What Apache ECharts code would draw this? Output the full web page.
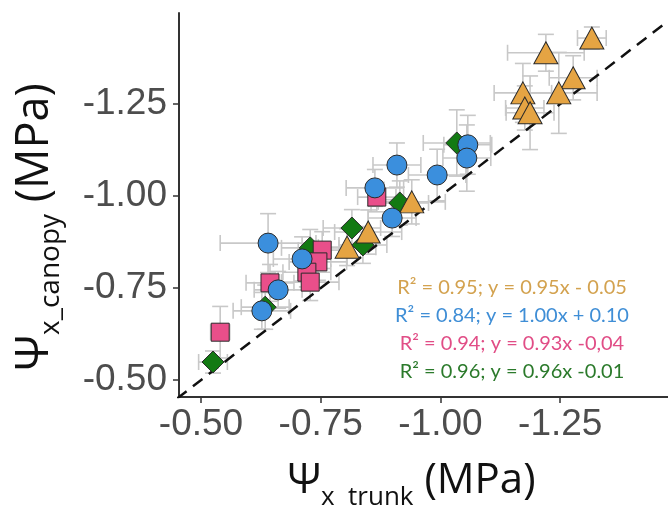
<!DOCTYPE html>
<html>
<head>
<meta charset="utf-8">
<script src="https://cdn.jsdelivr.net/npm/echarts@6/dist/echarts.min.js"></script>
<style>
  html, body { margin: 0; padding: 0; background: #fff; }
  #chart { width: 668px; height: 506px; }
</style>
</head>
<body>
<div id="chart"></div>
<script>
// tick values shared by both axes
const ticks = [-0.5, -0.75, -1.0, -1.25];

// each row: [psi trunk, psi canopy, trunk err, canopy err]
const orange = [
  [-1.316, -1.429, 0.03, 0.03],
  [-1.220, -1.389, 0.08, 0.05],
  [-1.277, -1.321, 0.05, 0.06],
  [-1.172, -1.280, 0.06, 0.08],
  [-1.247, -1.280, 0.08, 0.11],
  [-1.176, -1.239, 0.04, 0.06],
  [-1.187, -1.226, 0.05, 0.10],
  [-0.940, -0.984, 0.07, 0.06],
  [-0.849, -0.902, 0.07, 0.06],
  [-0.805, -0.861, 0.06, 0.05]
];
const blue = [
  [-1.057, -1.139, 0.05, 0.08],
  [-1.055, -1.103, 0.05, 0.09],
  [-0.909, -1.084, 0.05, 0.06],
  [-0.993, -1.057, 0.06, 0.07],
  [-0.863, -1.022, 0.06, 0.05],
  [-0.899, -0.940, 0.05, 0.05],
  [-0.711, -0.829, 0.06, 0.06],
  [-0.640, -0.872, 0.10, 0.08],
  [-0.661, -0.745, 0.05, 0.05],
  [-0.627, -0.688, 0.06, 0.05]
];
const pink = [
  [-0.867, -0.997, 0.04, 0.04],
  [-0.753, -0.853, 0.05, 0.05],
  [-0.744, -0.821, 0.06, 0.05],
  [-0.721, -0.793, 0.05, 0.04],
  [-0.728, -0.766, 0.06, 0.05],
  [-0.644, -0.764, 0.05, 0.05],
  [-0.540, -0.630, 0.02, 0.07]
];
const green = [
  [-1.034, -1.144, 0.07, 0.09],
  [-0.915, -0.981, 0.06, 0.06],
  [-0.815, -0.913, 0.06, 0.05],
  [-0.838, -0.867, 0.05, 0.05],
  [-0.728, -0.859, 0.06, 0.05],
  [-0.634, -0.698, 0.05, 0.06],
  [-0.525, -0.549, 0.03, 0.03]
];
const oneToOne = [[-0.45, -0.45], [-1.5, -1.5]];

const fitLabels = [
  'R\u00b2 = 0.95; y = 0.95x - 0.05',
  'R\u00b2 = 0.84; y = 1.00x + 0.10',
  'R\u00b2 = 0.94; y = 0.93x -0,04',
  'R\u00b2 = 0.96; y = 0.96x -0.01'
];
const fitColors = ['#D3A24F', '#3F8ED6', '#E14D86', '#2B7A2B'];

const chart = echarts.init(document.getElementById('chart'));

function errorBars(data) {
  return {
    type: 'custom',
    silent: true,
    z: 1,
    encode: {x: 0, y: 1},
    data: data,
    renderItem: function (params, api) {
      const x = api.value(0), y = api.value(1);
      const ex = api.value(2), ey = api.value(3);
      const a = api.coord([x + ex, y]), b = api.coord([x - ex, y]);
      const c = api.coord([x, y + ey]), d = api.coord([x, y - ey]);
      const cap = 8;
      const style = {stroke: '#c8c8c8', lineWidth: 1.6};
      const seg = (x1, y1, x2, y2) => ({type: 'line', shape: {x1, y1, x2, y2}, style});
      return {
        type: 'group',
        children: [
          seg(a[0], a[1], b[0], b[1]),
          seg(a[0], a[1] - cap, a[0], a[1] + cap),
          seg(b[0], b[1] - cap, b[0], b[1] + cap),
          seg(c[0], c[1], d[0], d[1]),
          seg(c[0] - cap, c[1], c[0] + cap, c[1]),
          seg(d[0] - cap, d[1], d[0] + cap, d[1])
        ]
      };
    }
  };
}

function points(data, symbol, size, color) {
  return {
    type: 'scatter',
    z: 3,
    symbol: symbol,
    symbolSize: size,
    data: data.map(d => [d[0], d[1]]),
    itemStyle: {color: color, borderColor: '#2a2a2a', borderWidth: 1, opacity: 1}
  };
}

const axisCommon = {
  type: 'value',
  inverse: true,
  axisLine: {show: true, lineStyle: {color: '#333', width: 2}},
  axisTick: {show: true, length: 6, customValues: ticks, lineStyle: {color: '#333', width: 1.5}},
  splitLine: {show: false},
  axisLabel: {
    customValues: ticks,
    formatter: v => v.toFixed(2),
    color: '#4d4d4d',
    fontFamily: 'Liberation Sans',
    fontSize: 37
  }
};

function titleRich(big, small) {
  return {
    p: {fontSize: big, fontFamily: 'Open Sans', color: '#111', lineHeight: 60, verticalAlign: 'middle'},
    s: {fontSize: small, fontFamily: 'Open Sans', color: '#111', lineHeight: 60, verticalAlign: 'bottom'}
  };
}

chart.setOption({
  animation: false,
  grid: {left: 179, right: 0, top: 13, bottom: 109, outerBoundsMode: 'none', containLabel: false},
  xAxis: Object.assign({}, axisCommon, {
    min: -1.475, max: -0.454,
    axisLabel: Object.assign({}, axisCommon.axisLabel, {margin: 9}),
    name: '{p|\u03a8}{s|x  trunk}{p| (MPa)}',
    nameLocation: 'middle',
    nameGap: 54,
    nameTextStyle: {rich: titleRich(42, 26), padding: [0, 24, 0, 0]}
  }),
  yAxis: Object.assign({}, axisCommon, {
    min: -1.497, max: -0.454,
    axisLabel: Object.assign({}, axisCommon.axisLabel, {margin: 12}),
    name: '{p|\u03a8}{s|x_canopy}{p| (MPa)}',
    nameLocation: 'middle',
    nameGap: 114,
    nameTextStyle: {rich: titleRich(45, 28), padding: [0, 44, 0, 0]}
  }),
  graphic: fitLabels.map((t, i) => ({
    type: 'text',
    z: 10,
    style: {
      x: 512, y: 288 + i * 28,
      text: t,
      fill: fitColors[i],
      font: '20px Lato',
      textAlign: 'center',
      textVerticalAlign: 'middle'
    }
  })),
  series: [
    errorBars(green),
    errorBars(pink),
    errorBars(orange),
    errorBars(blue),
    {
      type: 'line',
      z: 2,
      data: oneToOne,
      symbol: 'none',
      silent: true,
      lineStyle: {color: '#111', width: 2.5, type: [12, 8]}
    },
    points(green, 'diamond', 22, '#137A13'),
    points(pink, 'rect', 18, '#E94F8A'),
    points(orange, 'triangle', [24, 22], '#E5A443'),
    points(blue, 'circle', 20, '#3B8FDD')
  ]
});
</script>
</body>
</html>
